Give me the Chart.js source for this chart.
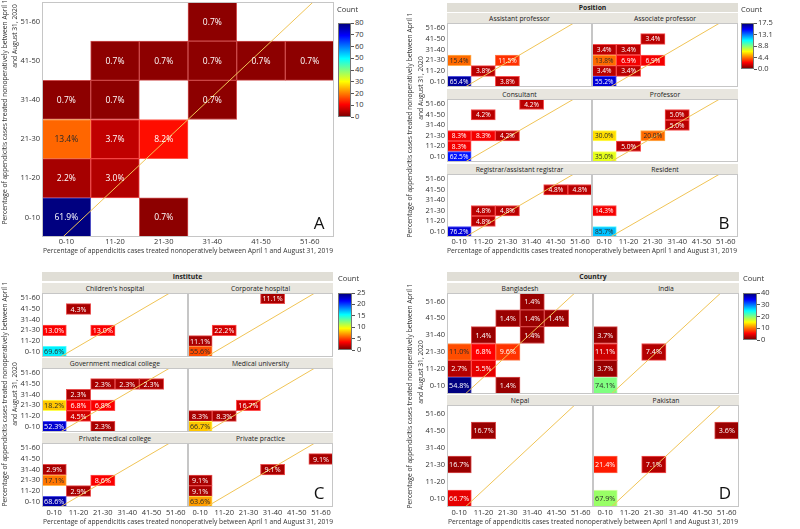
<!DOCTYPE html>
<html><head><meta charset="utf-8">
<script src="https://cdn.jsdelivr.net/npm/chart.js@4.4.0/dist/chart.umd.min.js"></script>
<style>
body{margin:0;background:#fff;}
#root{position:relative;width:800px;height:529px;overflow:hidden;background:#fff;font-family:"Open Sans","Noto Sans",sans-serif;color:#333;}
.t{position:absolute;white-space:nowrap;line-height:1;}
.strip{position:absolute;display:flex;align-items:center;justify-content:center;font-size:6.8px;color:#222;white-space:nowrap;background:#e8e6df;}
.hdr{background:#e0ded6;font-weight:bold;}
canvas{position:absolute;}
</style></head><body><div id="root"></div>
<script>
// ---------- DATA ----------
const bins = ['0-10','11-20','21-30','31-40','41-50','51-60'];
const xTitle = 'Percentage of appendicitis cases treated nonoperatively between April 1 and August 31, 2019';
const yTitle1 = 'Percentage of appendicitis cases treated nonoperatively between April 1';
const yTitle2 = 'and August 31, 2020';

// cells: [2019 bin, 2020 bin, percent]
const allCells = [['0-10','0-10',61.9],['21-30','0-10',0.7],['0-10','11-20',2.2],['11-20','11-20',3.0],
  ['0-10','21-30',13.4],['11-20','21-30',3.7],['21-30','21-30',8.2],['0-10','31-40',0.7],['11-20','31-40',0.7],
  ['31-40','31-40',0.7],['11-20','41-50',0.7],['21-30','41-50',0.7],['31-40','41-50',0.7],['41-50','41-50',0.7],
  ['51-60','41-50',0.7],['31-40','51-60',0.7]];
const allN = 134;

const asstProf = [['0-10','0-10',65.4],['21-30','0-10',3.8],['11-20','11-20',3.8],['0-10','21-30',15.4],['21-30','21-30',11.5]];
const asstProfN = 26;
const assocProf = [['0-10','0-10',55.2],['0-10','11-20',3.4],['11-20','11-20',3.4],['0-10','21-30',13.8],['11-20','21-30',6.9],
  ['21-30','21-30',6.9],['0-10','31-40',3.4],['11-20','31-40',3.4],['21-30','41-50',3.4]];
const assocProfN = 29;
const consultant = [['0-10','0-10',62.5],['0-10','11-20',8.3],['0-10','21-30',8.3],['11-20','21-30',8.3],['21-30','21-30',4.2],
  ['11-20','41-50',4.2],['31-40','51-60',4.2]];
const consultantN = 24;
const professor = [['0-10','0-10',35.0],['11-20','11-20',5.0],['0-10','21-30',30.0],['21-30','21-30',20.0],['31-40','31-40',5.0],['31-40','41-50',5.0]];
const professorN = 20;
const registrar = [['0-10','0-10',76.2],['11-20','11-20',4.8],['11-20','21-30',4.8],['21-30','21-30',4.8],['41-50','41-50',4.8],['51-60','41-50',4.8]];
const registrarN = 21;
const resident = [['0-10','0-10',85.7],['0-10','21-30',14.3]];
const residentN = 14;

const childrens = [['0-10','0-10',69.6],['0-10','21-30',13.0],['21-30','21-30',13.0],['11-20','41-50',4.3]];
const childrensN = 23;
const corporate = [['0-10','0-10',55.6],['0-10','11-20',11.1],['11-20','21-30',22.2],['31-40','51-60',11.1]];
const corporateN = 9;
const govMed = [['0-10','0-10',52.3],['21-30','0-10',2.3],['11-20','11-20',4.5],['0-10','21-30',18.2],['11-20','21-30',6.8],
  ['21-30','21-30',6.8],['11-20','31-40',2.3],['21-30','41-50',2.3],['31-40','41-50',2.3],['41-50','41-50',2.3]];
const govMedN = 44;
const medUniv = [['0-10','0-10',66.7],['0-10','11-20',8.3],['11-20','11-20',8.3],['21-30','21-30',16.7]];
const medUnivN = 12;
const privMed = [['0-10','0-10',68.6],['11-20','11-20',2.9],['0-10','21-30',17.1],['21-30','21-30',8.6],['0-10','31-40',2.9]];
const privMedN = 35;
const privPrac = [['0-10','0-10',63.6],['0-10','11-20',9.1],['0-10','21-30',9.1],['31-40','31-40',9.1],['51-60','41-50',9.1]];
const privPracN = 11;

const bangladesh = [['0-10','0-10',54.8],['21-30','0-10',1.4],['0-10','11-20',2.7],['11-20','11-20',5.5],['0-10','21-30',11.0],
  ['11-20','21-30',6.8],['21-30','21-30',9.6],['11-20','31-40',1.4],['31-40','31-40',1.4],['21-30','41-50',1.4],
  ['31-40','41-50',1.4],['41-50','41-50',1.4],['31-40','51-60',1.4]];
const bangladeshN = 73;
const india = [['0-10','0-10',74.1],['0-10','11-20',3.7],['0-10','21-30',11.1],['21-30','21-30',7.4],['0-10','31-40',3.7]];
const indiaN = 27;
const nepal = [['0-10','0-10',66.7],['0-10','21-30',16.7],['11-20','41-50',16.7]];
const nepalN = 6;
const pakistan = [['0-10','0-10',67.9],['0-10','21-30',21.4],['21-30','21-30',7.1],['51-60','41-50',3.6]];
const pakistanN = 28;

const countTicksA = ['0','10','20','30','40','50','60','70','80'];
const countTicksB = ['0.0','4.4','8.8','13.1','17.5'];
const countTicksC = ['0','5','10','15','20','25'];
const countTicksD = ['0','10','20','30','40'];

// ---------- RENDERING ----------
const root = document.getElementById('root');
const FONT = '"Open Sans","Noto Sans",sans-serif';
const TICK = 7.5, TITLE = 6.7;
const jet = [[0,[128,0,0]],[0.125,[255,0,0]],[0.25,[255,128,0]],[0.375,[255,255,0]],[0.5,[128,255,128]],
  [0.625,[0,255,255]],[0.75,[0,128,255]],[0.875,[0,0,255]],[1,[0,0,128]]];
function colorAt(t){
  t = Math.max(0, Math.min(1, t));
  for (let i = 1; i < jet.length; i++) {
    if (t <= jet[i][0]) {
      const a = jet[i-1], b = jet[i], f = (t - a[0]) / (b[0] - a[0]);
      return a[1].map((v,k)=>Math.round(v + (b[1][k]-v)*f));
    }
  }
  return jet[jet.length-1][1];
}
const rgb = c => `rgb(${c[0]},${c[1]},${c[2]})`;
const lum = c => (0.2126*c[0] + 0.7152*c[1] + 0.0722*c[2]) / 255;

const framePlugin = {
  id:'frame',
  afterDatasetsDraw(chart){
    const a = chart.chartArea, ctx = chart.ctx;
    ctx.save(); ctx.strokeStyle = '#c6c6c6'; ctx.lineWidth = 1;
    ctx.strokeRect(Math.round(a.left)+0.5, Math.round(a.top)+0.5, Math.round(a.right-a.left)-1, Math.round(a.bottom-a.top)-1);
    ctx.restore();
  }
};
const labelPlugin = {
  id:'cellLabels',
  afterDatasetsDraw(chart, args, opts){
    const ctx = chart.ctx;
    ctx.save();
    ctx.font = `${opts.size}px ${FONT}`;
    ctx.textAlign = 'center'; ctx.textBaseline = 'middle';
    chart.data.datasets.forEach((ds, i) => {
      if (!ds.pct) return;
      const meta = chart.getDatasetMeta(i);
      meta.data.forEach((el, j) => {
        if (ds.pct[j] == null) return;
        const p = el.getCenterPoint();
        ctx.fillStyle = ds.txt[j];
        ctx.fillText(ds.pct[j].toFixed(1) + '%', p.x, p.y + 0.5);
      });
    });
    ctx.restore();
  }
};

function heat(o){
  const YW = o.showY ? 34 : 0, XH = o.showX ? 14 : 0, PT = 5, PR = 4;
  const W = o.w + YW + PR, H = o.h + XH + PT;
  const cv = document.createElement('canvas');
  cv.width = W; cv.height = H;
  cv.style.left = (o.left - YW) + 'px'; cv.style.top = (o.top - PT) + 'px';
  cv.style.width = W + 'px'; cv.style.height = H + 'px';
  root.appendChild(cv);
  const datasets = [{type:'line', xAxisID:'xd', yAxisID:'y', data:[{x:0,y:0},{x:6,y:6}],
    borderColor:'#f0c456', borderWidth:1, pointRadius:0, order:0}];
  bins.forEach((rb, r) => {
    const row = o.cells.filter(c => c[1] === rb);
    if (!row.length) return;
    const pct = bins.map(b => { const c = row.find(c => c[0] === b); return c ? c[2] : null; });
    const cols = pct.map(p => p == null ? [0,0,0] : colorAt(Math.round(p * o.n / 100) / o.max));
    datasets.push({
      type:'bar', xAxisID:'x', yAxisID:'y',
      data: pct.map(p => p == null ? null : [r, r + 1]),
      pct,
      txt: cols.map(c => lum(c) > 0.42 ? '#2a2a2a' : '#ffffff'),
      backgroundColor: cols.map(rgb),
      borderColor: cols.map(c => `rgba(${Math.min(255,c[0]+60)},${Math.min(255,c[1]+60)},${Math.min(255,c[2]+60)},0.9)`),
      borderWidth: 1, borderSkipped: false, grouped: false,
      barPercentage: 1, categoryPercentage: 1, order: 1
    });
  });
  new Chart(cv, {
    type:'bar',
    data:{labels: bins, datasets},
    plugins:[framePlugin, labelPlugin],
    options:{
      responsive:false, animation:false, devicePixelRatio:1, events:[],
      layout:{padding:{top:PT, right:PR, left:0, bottom:0}},
      plugins:{legend:{display:false}, tooltip:{enabled:false}, cellLabels:{size:o.fs}},
      scales:{
        x:{type:'category', offset:true, display:o.showX, grid:{display:false, drawTicks:false}, border:{display:false},
          ticks:{font:{size:TICK, family:FONT}, color:'#333', padding:o.xPad || 0, maxRotation:0, autoSkip:false},
          afterFit(s){ s.height = XH; s.paddingLeft = 0; s.paddingRight = 0; }},
        xd:{type:'linear', display:false, min:0, max:6},
        y:{type:'linear', min:0, max:6, display:o.showY, grid:{display:false, drawTicks:false}, border:{display:false},
          afterBuildTicks(s){ s.ticks = [0.5,1.5,2.5,3.5,4.5,5.5].map(v => ({value:v})); },
          ticks:{font:{size:TICK, family:FONT}, color:'#333', padding:2, autoSkip:false, callback: v => bins[Math.floor(v)]},
          afterFit(s){ s.width = YW; s.paddingTop = 0; s.paddingBottom = 0; }}
      }
    }
  });
}

function text(str, x, y, css, anchor){
  const d = document.createElement('div');
  d.className = 't'; d.textContent = str;
  d.style.left = x + 'px'; d.style.top = y + 'px';
  d.style.transform = anchor || 'translate(-50%,-50%)';
  Object.assign(d.style, css || {});
  root.appendChild(d);
  return d;
}
function strip(str, x, y, w, h, hdr){
  const d = document.createElement('div');
  d.className = 'strip' + (hdr ? ' hdr' : '');
  d.textContent = str;
  Object.assign(d.style, {left:x+'px', top:y+'px', width:w+'px', height:h+'px'});
  root.appendChild(d);
}
function colorbar(x, y, w, h, labels, lx, cx, cy){
  const g = jet.map(s => `${rgb(s[1])} ${s[0]*100}%`).join(',');
  const d = document.createElement('div');
  Object.assign(d.style, {position:'absolute', left:x+'px', top:y+'px', width:w+'px', height:h+'px',
    background:`linear-gradient(to top, ${g})`, boxSizing:'border-box', border:'1px solid #777'});
  root.appendChild(d);
  labels.forEach((lab, i) => {
    const ty = y + h - h * i / (labels.length - 1);
    const tk = document.createElement('div');
    Object.assign(tk.style, {position:'absolute', left:(x+w)+'px', top:(ty-0.5)+'px', width:'3px', height:'1px', background:'#555'});
    root.appendChild(tk);
    text(lab, lx, ty, {fontSize:'7.5px', color:'#333'}, 'translate(0,-50%)');
  });
  text('Count', cx, cy, {fontSize:'7.5px', color:'#333'}, 'translate(0,-50%)');
}
function axisTitles(xc, xy, y1x, y1y, y2x, y2y){
  const st = {fontSize:TITLE+'px', color:'#333'};
  text(xTitle, xc, xy, st);
  text(yTitle1, y1x, y1y, st, 'translate(-50%,-50%) rotate(-90deg)');
  text(yTitle2, y2x, y2y, st, 'translate(-50%,-50%) rotate(-90deg)');
}
function bigLetter(s, x, y){ text(s, x, y, {fontSize:'17px', color:'#111'}); }

// Panel A
heat({left:42, top:2, w:292, h:235, cells:allCells, n:allN, max:80, showY:true, showX:true, fs:8.5, xPad:0});
colorbar(338, 23, 13, 94, countTicksA, 355, 337, 10);
axisTitles(188, 251, 5, 112, 15, 36);
bigLetter('A', 319, 222);

// Panel B
strip('Position', 447, 3, 291, 9, true);
const bRows = [[13,23,64],[89,99,63],[164,174,63]];
const bPanels = [['Assistant professor',asstProf,asstProfN],['Associate professor',assocProf,assocProfN],
  ['Consultant',consultant,consultantN],['Professor',professor,professorN],
  ['Registrar/assistant registrar',registrar,registrarN],['Resident',resident,residentN]];
bPanels.forEach((p, i) => {
  const r = Math.floor(i/2), c = i % 2;
  const left = c ? 592 : 447, w = c ? 146 : 145;
  strip(p[0], left, bRows[r][0], w, 10);
  heat({left, top:bRows[r][1], w, h:bRows[r][2], cells:p[1], n:p[2], max:17.5, showY:c===0, showX:r===2, fs:6.6, xPad:0});
});
colorbar(741, 23, 13, 46, countTicksB, 758, 741, 10);
axisTitles(592, 251, 410, 125, 421, 88);
bigLetter('B', 724, 222);

// Panel C
strip('Institute', 42, 272, 291, 9, true);
const cRows = [[283,293,64],[358,368,64],[433,443,64]];
const cPanels = [["Children's hospital",childrens,childrensN],['Corporate hospital',corporate,corporateN],
  ['Government medical college',govMed,govMedN],['Medical university',medUniv,medUnivN],
  ['Private medical college',privMed,privMedN],['Private practice',privPrac,privPracN]];
cPanels.forEach((p, i) => {
  const r = Math.floor(i/2), c = i % 2;
  const left = c ? 188 : 42, w = c ? 145 : 146;
  strip(p[0], left, cRows[r][0], w, 10);
  heat({left, top:cRows[r][1], w, h:cRows[r][2], cells:p[1], n:p[2], max:25, showY:c===0, showX:r===2, fs:7.2, xPad:1});
});
colorbar(338, 293, 14, 57, countTicksC, 357, 338, 279);
axisTitles(188, 522, 5, 394, 15, 394);
bigLetter('C', 319, 492);

// Panel D
strip('Country', 447, 272, 292, 9, true);
const dRows = [[283,293,101],[395,405,102]];
const dPanels = [['Bangladesh',bangladesh,bangladeshN],['India',india,indiaN],['Nepal',nepal,nepalN],['Pakistan',pakistan,pakistanN]];
dPanels.forEach((p, i) => {
  const r = Math.floor(i/2), c = i % 2;
  const left = c ? 593 : 447, w = 146;
  strip(p[0], left, dRows[r][0], w, 10);
  heat({left, top:dRows[r][1], w, h:dRows[r][2], cells:p[1], n:p[2], max:40, showY:c===0, showX:r===1, fs:7.2, xPad:1});
});
colorbar(743, 293, 14, 47, countTicksD, 761, 743, 279);
axisTitles(593, 522, 410, 396, 421, 372);
bigLetter('D', 725, 492);
</script></body></html>
